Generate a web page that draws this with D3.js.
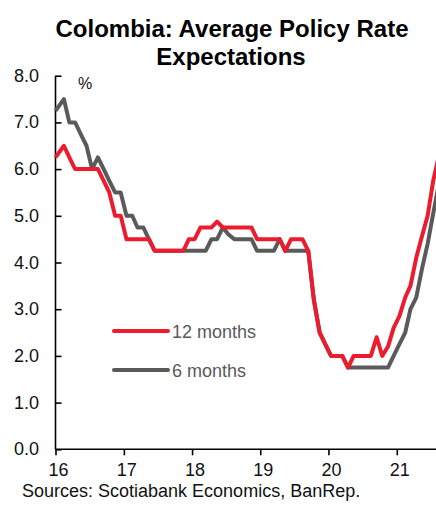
<!DOCTYPE html>
<html>
<head>
<meta charset="utf-8">
<script src="https://cdn.jsdelivr.net/npm/d3@7"></script>
<style>
  body { margin: 0; background: #fff; }
  svg { display: block; font-family: "Liberation Sans", Arial, sans-serif; }
</style>
</head>
<body>
<div id="chart"></div>
<script>
// monthly survey, Jan 2016 onward
const rate12m = [6.25, 6.5, 6.25, 6.0, 6.0, 6.0, 6.0, 6.0, 5.75, 5.5, 5.0, 5.0,
  4.5, 4.5, 4.5, 4.5, 4.5, 4.25, 4.25, 4.25, 4.25, 4.25, 4.25, 4.5,
  4.5, 4.75, 4.75, 4.75, 4.875, 4.75, 4.75, 4.75, 4.75, 4.75, 4.75, 4.5,
  4.5, 4.5, 4.5, 4.5, 4.25, 4.5, 4.5, 4.5, 4.25, 3.2, 2.5, 2.25,
  2.0, 2.0, 2.0, 1.75, 2.0, 2.0, 2.0, 2.0, 2.4, 2.0, 2.2, 2.6,
  2.85, 3.25, 3.5, 4.1, 4.55, 5.0, 5.75, 6.3];
const rate6m = [7.25, 7.5, 7.0, 7.0, 6.75, 6.5, 6.0, 6.25, 6.0, 5.75, 5.5, 5.5,
  5.0, 5.0, 4.75, 4.75, 4.5, 4.25, 4.25, 4.25, 4.25, 4.25, 4.25, 4.25,
  4.25, 4.25, 4.25, 4.5, 4.5, 4.75, 4.6, 4.5, 4.5, 4.5, 4.5, 4.25,
  4.25, 4.25, 4.25, 4.5, 4.25, 4.25, 4.25, 4.25, 4.25, 3.2, 2.5, 2.25,
  2.0, 2.0, 2.0, 1.75, 1.75, 1.75, 1.75, 1.75, 1.75, 1.75, 1.75, 2.0,
  2.25, 2.5, 3.0, 3.25, 3.85, 4.4, 5.05, 5.7];
const yearTicks = ["16", "17", "18", "19", "20", "21"];
const yTicks = [0, 1, 2, 3, 4, 5, 6, 7, 8];
const seriesNames = ["12 months", "6 months"];

// survey dates sit mid-month (first one on the axis)
const dates = d3.timeMonth.range(new Date(2016, 0, 1), new Date(2016 + 6, 0, 1))
  .slice(0, rate12m.length)
  .map((d, i) => i === 0 ? d : d3.timeDay.offset(d, 14));

const width = 436, height = 508;
const svg = d3.select("#chart").append("svg")
  .attr("width", width)
  .attr("height", height);

const x0 = 55.5, yearPx = 68.26;
const x = d3.scaleTime()
  .domain([new Date(2016, 0, 1), new Date(2021, 0, 1)])
  .range([x0, x0 + 5 * yearPx]);
const y = d3.scaleLinear().domain([0, 8]).range([449.3, 75.7]);

// title
svg.append("text")
  .attr("x", 232).attr("y", 37)
  .attr("text-anchor", "middle")
  .attr("font-size", 24).attr("font-weight", "bold")
  .text("Colombia: Average Policy Rate");
svg.append("text")
  .attr("x", 231).attr("y", 65)
  .attr("text-anchor", "middle")
  .attr("font-size", 24).attr("font-weight", "bold")
  .text("Expectations");

// y axis, ticks pointing inward
const yAxis = svg.append("g")
  .attr("transform", `translate(${x0},0)`)
  .call(d3.axisRight(y).tickValues(yTicks).tickSize(6).tickFormat(""));
yAxis.select(".domain").attr("stroke", "#000").attr("stroke-width", 1.6)
  .attr("d", `M0,${y(8)}V${y(0)}`);
yAxis.selectAll(".tick line").attr("stroke", "#000").attr("stroke-width", 1.6);

svg.selectAll(".ylab").data(yTicks).enter().append("text")
  .attr("class", "ylab")
  .attr("x", 39).attr("y", (d) => y(d) + 6)
  .attr("text-anchor", "end")
  .attr("font-size", 18).attr("fill", "#111")
  .text((d) => d.toFixed(1));

svg.append("text")
  .attr("x", 78).attr("y", 89)
  .attr("font-size", 16).attr("fill", "#111")
  .text("%");

// x axis
const yearDates = yearTicks.map((t) => new Date(2000 + +t, 0, 1));
const xAxis = svg.append("g")
  .attr("transform", `translate(0,${y(0)})`)
  .call(d3.axisBottom(x).tickValues(yearDates).tickSize(6).tickFormat(""));
xAxis.select(".domain").attr("d", `M${x0},0H${width}`)
  .attr("stroke", "#000").attr("stroke-width", 1.6);
xAxis.selectAll(".tick line").attr("stroke", "#000").attr("stroke-width", 1.6);

svg.selectAll(".xlab").data(yearDates).enter().append("text")
  .attr("class", "xlab")
  .attr("x", (d) => x(d) + 3).attr("y", 476)
  .attr("text-anchor", "middle")
  .attr("font-size", 18).attr("fill", "#111")
  .text((d, i) => yearTicks[i]);

// lines
const line = d3.line()
  .x((d, i) => x(dates[i]))
  .y((d) => y(d));

svg.append("path").datum(rate6m)
  .attr("fill", "none").attr("stroke", "#5a5a5a")
  .attr("stroke-width", 4).attr("stroke-linejoin", "round")
  .attr("d", line);
svg.append("path").datum(rate12m)
  .attr("fill", "none").attr("stroke", "#ec1c2e")
  .attr("stroke-width", 4).attr("stroke-linejoin", "round")
  .attr("d", line);

// legend
const legColors = ["#ec1c2e", "#5a5a5a"];
const leg = svg.selectAll(".leg").data(seriesNames).enter().append("g")
  .attr("class", "leg")
  .attr("transform", (d, i) => `translate(114,${331 + i * 39})`);
leg.append("line")
  .attr("x1", 0).attr("x2", 54)
  .attr("stroke", (d, i) => legColors[i])
  .attr("stroke-width", 4).attr("stroke-linecap", "round");
leg.append("text")
  .attr("x", 58).attr("y", 6.5)
  .attr("font-size", 18).attr("fill", "#595959")
  .text((d) => d);

// source
svg.append("text")
  .attr("x", 22).attr("y", 497)
  .attr("font-size", 18).attr("fill", "#111")
  .text("Sources: Scotiabank Economics, BanRep.");
</script>
</body>
</html>
